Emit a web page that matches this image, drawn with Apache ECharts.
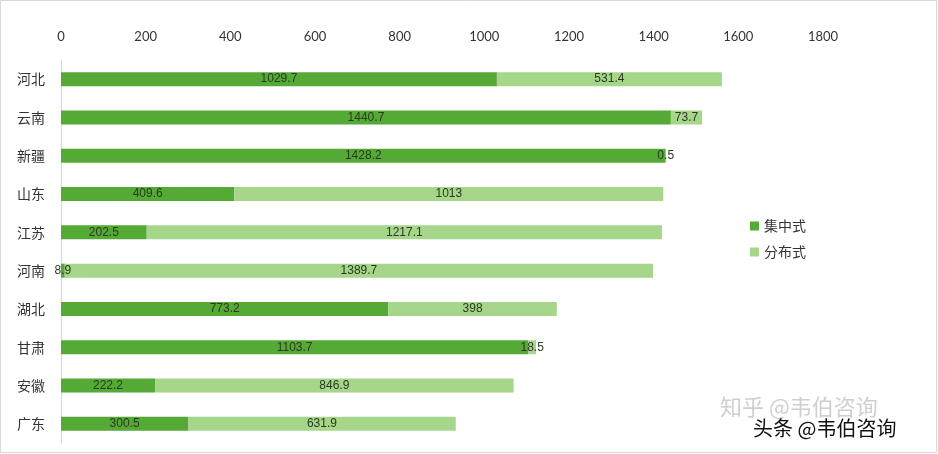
<!DOCTYPE html>
<html><head><meta charset="utf-8">
<script src="https://cdn.jsdelivr.net/npm/echarts@6/dist/echarts.min.js"></script>
<style>html,body{margin:0;padding:0;background:#fff}#c{width:938px;height:454px}</style>
</head><body><div id="c"></div>
<script>
const categories = ['河北','云南','新疆','山东','江苏','河南','湖北','甘肃','安徽','广东'];
const centralized = [1029.7,1440.7,1428.2,409.6,202.5,8.9,773.2,1103.7,222.2,300.5];
const distributed = [531.4,73.7,0.5,1013,1217.1,1389.7,398,18.5,846.9,631.9];
const seriesNames = ['集中式','分布式'];

const chart = echarts.init(document.getElementById('c'));
const labelStyle = {show:true, position:'inside', color:'#2b3a22', fontSize:12, fontFamily:'Liberation Sans, Arial, sans-serif'};
chart.setOption({
  animation:false,
  backgroundColor:'#fff',
  grid:{left:61, right:115, top:60, bottom:11},
  legend:{orient:'vertical', left:745, top:214, icon:'rect', itemWidth:9, itemHeight:9, itemGap:12,
    textStyle:{fontSize:14, color:'#333', fontFamily:'Noto Sans CJK SC'}, data:seriesNames},
  xAxis:{type:'value', position:'top', min:0, max:1800, interval:200,
    axisLine:{show:false}, axisTick:{show:false}, splitLine:{show:false},
    axisLabel:{color:'#333', fontSize:13, margin:17, fontFamily:'Lato, sans-serif', formatter:v=>String(v)}},
  yAxis:{type:'category', inverse:true, data:categories,
    axisLine:{show:true, lineStyle:{color:'#d9d9d9'}}, axisTick:{show:false},
    axisLabel:{color:'#333', fontSize:14, margin:16, fontFamily:'Noto Sans CJK SC'}},
  series:[
    {name:seriesNames[0], type:'bar', stack:'t', data:centralized, barWidth:14,
      itemStyle:{color:'#55a935'}, label:labelStyle},
    {name:seriesNames[1], type:'bar', stack:'t', data:distributed, barWidth:14,
      itemStyle:{color:'#a5d68a'}, label:labelStyle}
  ],
  graphic:[
    {type:'rect', shape:{x:0.5,y:0.5,width:936,height:452}, style:{fill:'none', stroke:'#d8d8d8'}, silent:true},
    {type:'text', left:720, top:396, style:{text:'知乎 @韦伯咨询', fontSize:22, fill:'#cfcfcf', fontFamily:'Noto Sans CJK SC'}},
    {type:'text', left:753, top:418, style:{text:'头条 @韦伯咨询', fontSize:20, fill:'#111', fontFamily:'Noto Sans CJK SC'}}
  ]
});
</script></body></html>
